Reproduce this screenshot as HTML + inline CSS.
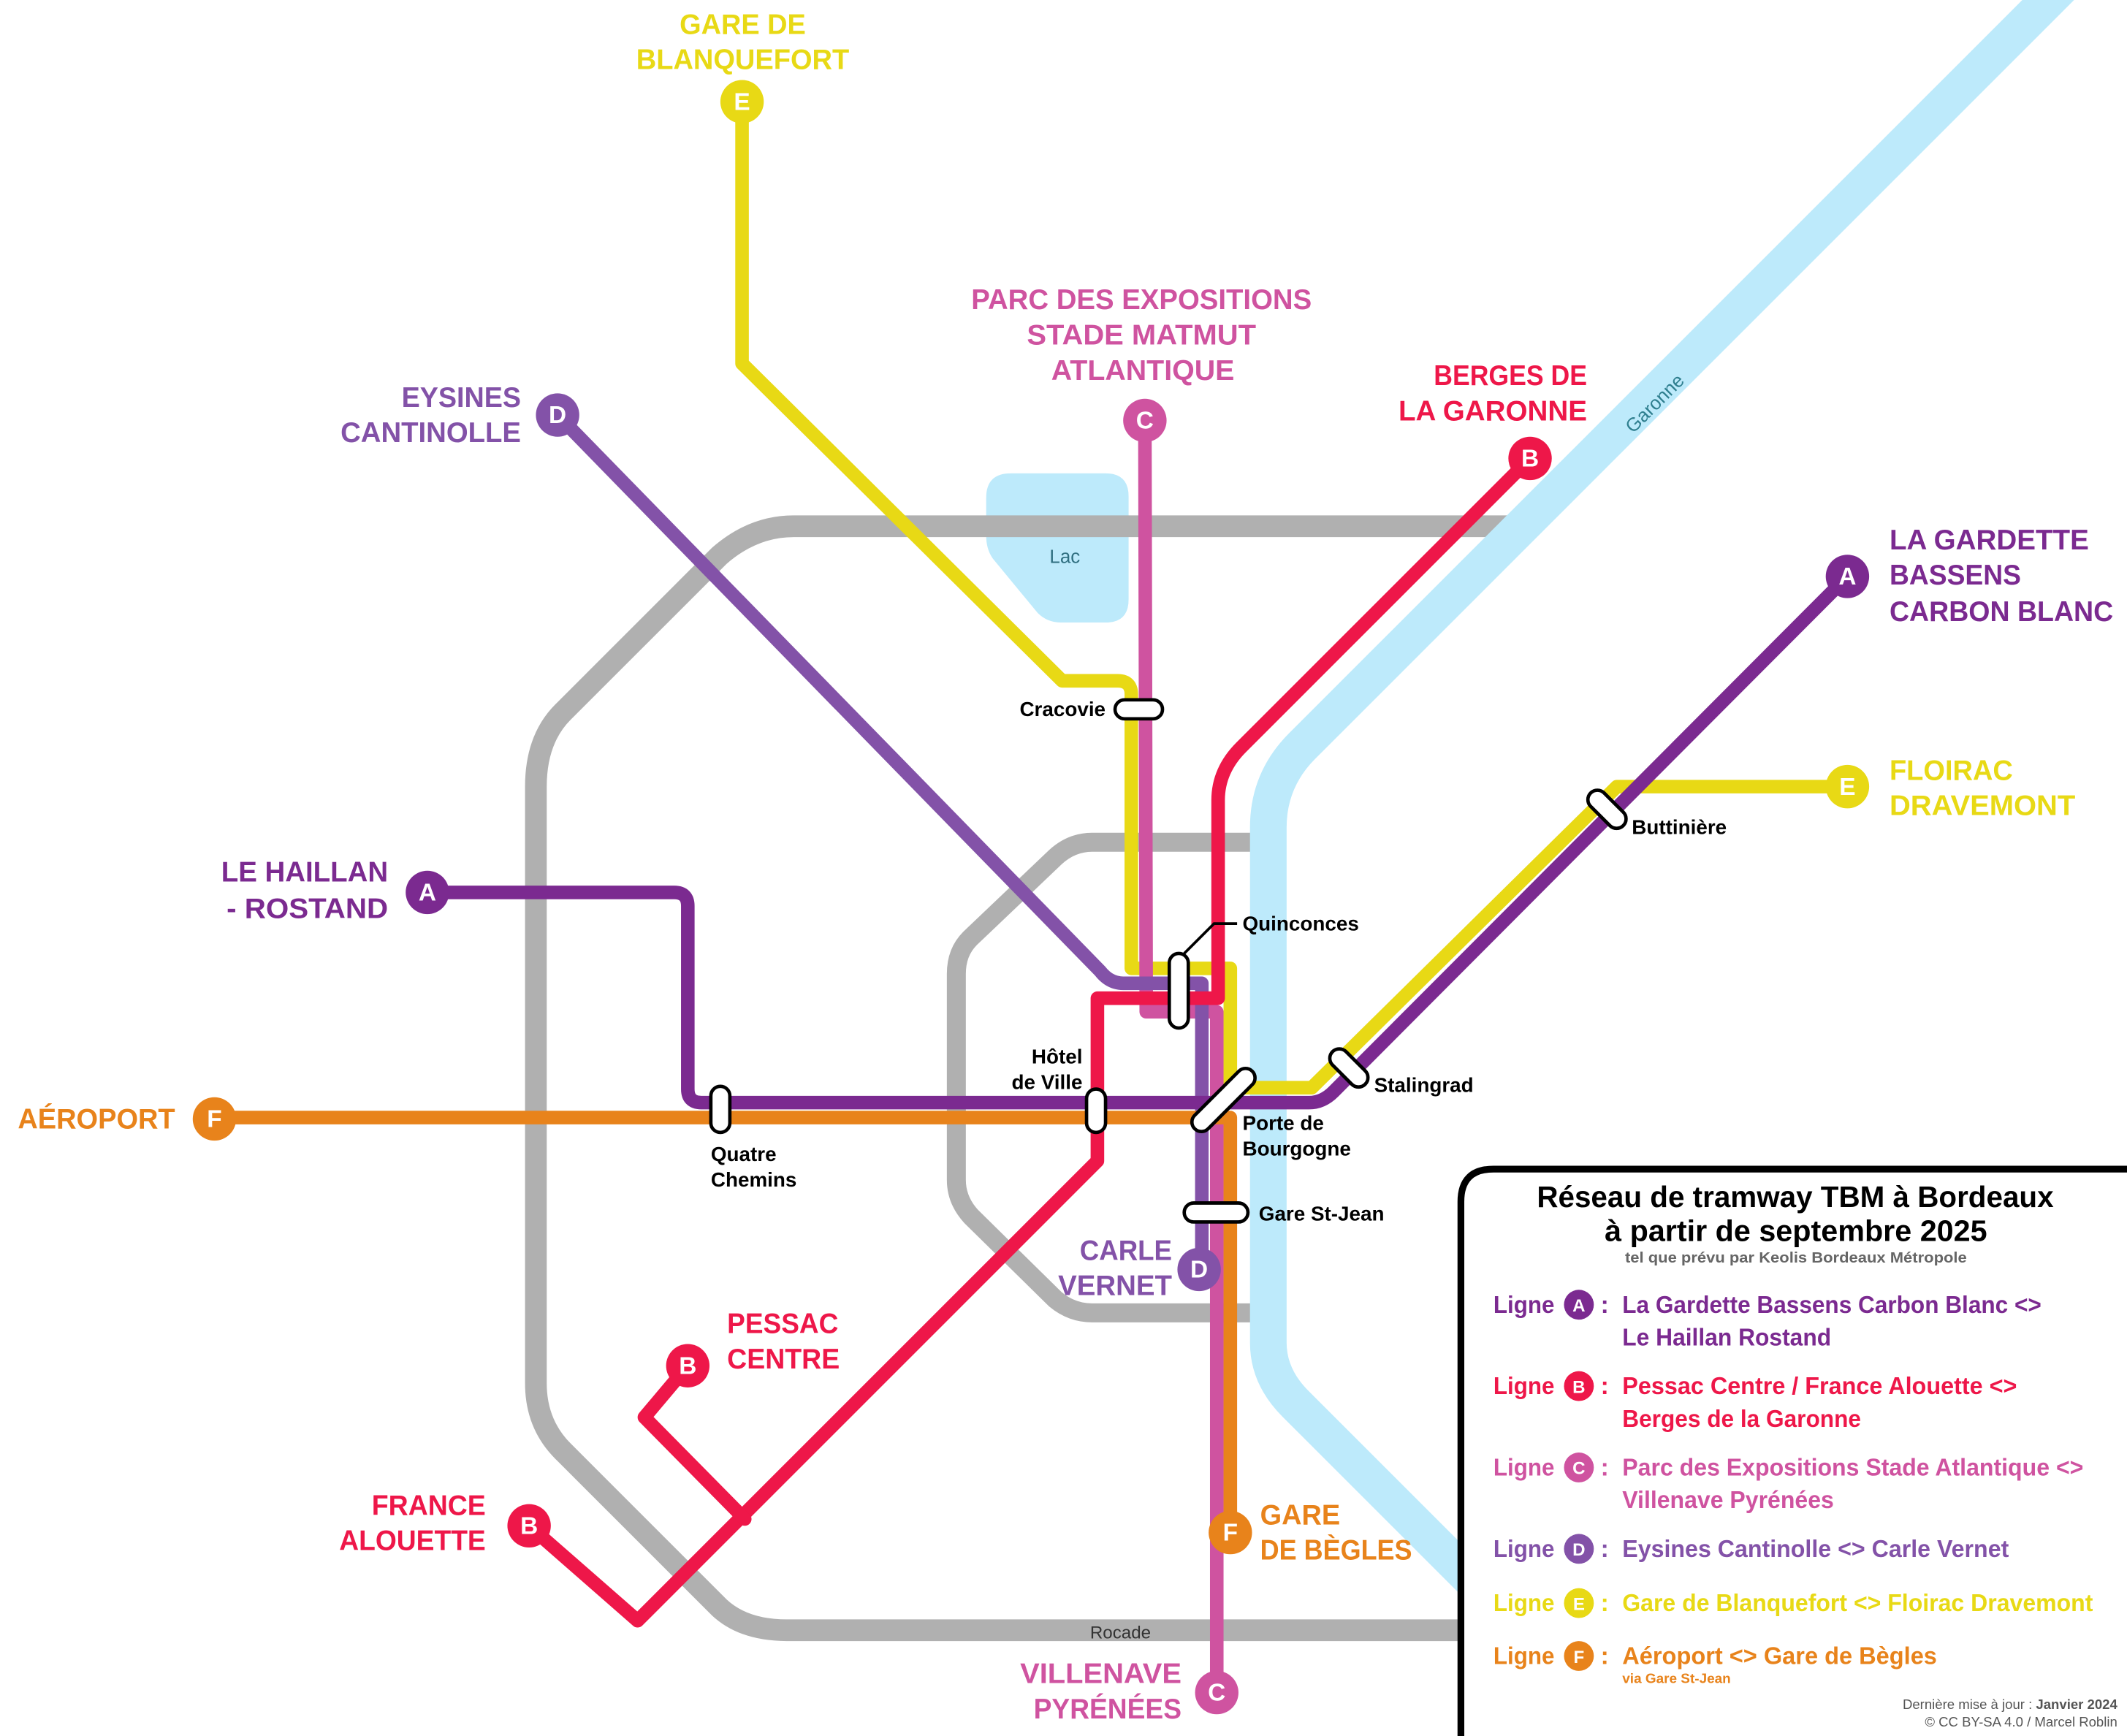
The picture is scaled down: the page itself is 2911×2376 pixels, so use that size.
<!DOCTYPE html>
<html><head><meta charset="utf-8"><style>
html,body{margin:0;padding:0;background:#fff}
svg{display:block}
text{font-family:"Liberation Sans",sans-serif;font-weight:bold}
.L{font-size:21px}
.s{font-size:15px;fill:#000}
.g{font-size:18px}
</style></head><body>
<svg width="2911" height="2376" viewBox="0 0 1568 1280" xmlns="http://www.w3.org/2000/svg">
<rect width="1568" height="1280" fill="#fff"/>
<!-- lake -->
<path d="M745,349 L815,349 Q832,349 832,366 L832,442 Q832,459 815,459 L782,459 Q772,459 765,452 L732,412 Q727,405 727,395 L727,367 Q727,349 745,349 Z" fill="#bdeafb"/>
<text x="785" y="415" text-anchor="middle" style="font-size:14px;font-weight:normal" fill="#2f6f80">Lac</text>
<!-- rocade -->
<path d="M1130,388 L585,388 Q555,388 530,410 L415,525 Q395,545 395,580 L395,1020 Q395,1050 415,1070 L530,1185 Q548,1202 580,1202 L1090,1202" fill="none" stroke="#b0b0b0" stroke-width="16"/>
<path d="M930,621 L805,621 Q790,621 778,632 L715,692 Q705,702 705,718 L705,870 Q705,885 716,897 L778,958 Q790,968 805,968 L930,968" fill="none" stroke="#b0b0b0" stroke-width="14"/>
<!-- river -->
<path d="M1520,-10 L960,550 Q935,575 935,610 L935,990 Q935,1015 955,1035 L1120,1200" fill="none" stroke="#bdeafb" stroke-width="27"/>
<text x="0" y="0" transform="translate(1204,320) rotate(-45)" style="font-size:14px;font-weight:normal" fill="#2f7f8f">Garonne</text>
<text x="826" y="1208" text-anchor="middle" style="font-size:13px;font-weight:normal" fill="#333">Rocade</text>

<g fill="none" stroke-width="10" stroke-linejoin="round" stroke-linecap="round">
<path d="M547,75 L547,268 L783,502 L824,502 Q834,502 834,512 L834,714 L907,714 L907,802 L967,802 L1192,580 L1362,580" stroke="#e8d915"/>
<path d="M844,310 L845,746 L897,746 L897,1248" stroke="#cf53a0"/>
<path d="M411,306 L811,716 Q818,725 828,725 L886,725 L886,936" stroke="#8352a8"/>
<path d="M158,824 L907,824 L907,1130" stroke="#e8831b"/>
<path d="M315,658 L497,658 Q507,658 507,668 L507,803 Q507,813 517,813 L965,813 Q975,813 983,805 L1362,425" stroke="#7b2a90"/>
<path d="M1128,338 L915,551 Q898,568 898,590 L898,736 L809,736 L809,856 L470,1195 L390,1125" stroke="#ee1749"/>
<path d="M549,1120 L475,1045 L507,1007" stroke="#ee1749"/>
</g>

<g font-size="18" text-anchor="middle" fill="#fff">
<circle cx="547" cy="75" r="16" fill="#e8d915"/><text x="547" y="81" fill="#fff">E</text>
<circle cx="844" cy="310" r="16" fill="#cf53a0"/><text x="844" y="316" fill="#fff">C</text>
<circle cx="411" cy="306" r="16" fill="#8352a8"/><text x="411" y="312" fill="#fff">D</text>
<circle cx="1128" cy="338" r="16" fill="#ee1749"/><text x="1128" y="344" fill="#fff">B</text>
<circle cx="1362" cy="425" r="16" fill="#7b2a90"/><text x="1362" y="431" fill="#fff">A</text>
<circle cx="1362" cy="580" r="16" fill="#e8d915"/><text x="1362" y="586" fill="#fff">E</text>
<circle cx="315" cy="658" r="16" fill="#7b2a90"/><text x="315" y="664" fill="#fff">A</text>
<circle cx="158" cy="825" r="16" fill="#e8831b"/><text x="158" y="831" fill="#fff">F</text>
<circle cx="507" cy="1007" r="16" fill="#ee1749"/><text x="507" y="1013" fill="#fff">B</text>
<circle cx="390" cy="1125" r="16" fill="#ee1749"/><text x="390" y="1131" fill="#fff">B</text>
<circle cx="884" cy="936" r="16" fill="#8352a8"/><text x="884" y="942" fill="#fff">D</text>
<circle cx="907" cy="1130" r="16" fill="#e8831b"/><text x="907" y="1136" fill="#fff">F</text>
<circle cx="897" cy="1248" r="16" fill="#cf53a0"/><text x="897" y="1254" fill="#fff">C</text>
</g>

<g fill="#fff" stroke="#000" stroke-width="2.5">
<rect x="822" y="516" width="35" height="14" rx="7"/>
<rect x="862" y="703" width="14" height="55" rx="7"/>
<rect x="801" y="803" width="14" height="32" rx="7"/>
<rect x="524" y="801" width="14" height="34" rx="7"/>
<rect x="873" y="887" width="47" height="14" rx="7"/>
<rect x="874" y="809" width="60" height="14" rx="7" transform="rotate(-45 897 816)"/>
<rect x="978" y="779" width="34" height="14" rx="7" transform="rotate(45 993 786)"/>
<rect x="1168" y="589" width="34" height="14" rx="7" transform="rotate(45 1184 596)"/>
</g>
<path d="M873,703 L895,681 L912,681" fill="none" stroke="#000" stroke-width="2"/>

<text class="s" x="815" y="528" text-anchor="end">Cracovie</text>
<text class="s" x="916" y="686">Quinconces</text>
<text class="s" x="798" y="784" text-anchor="end">Hôtel</text>
<text class="s" x="798" y="803" text-anchor="end">de Ville</text>
<text class="s" x="524" y="856">Quatre</text>
<text class="s" x="524" y="875">Chemins</text>
<text class="s" x="916" y="833">Porte de</text>
<text class="s" x="916" y="852">Bourgogne</text>
<text class="s" x="928" y="900">Gare St-Jean</text>
<text class="s" x="1013" y="805">Stalingrad</text>
<text class="s" x="1203" y="615">Buttinière</text>

<g class="L">
<text x="501" y="25" fill="#e8d915" textLength="93" lengthAdjust="spacingAndGlyphs">GARE DE</text>
<text x="469" y="51" fill="#e8d915" textLength="157" lengthAdjust="spacingAndGlyphs">BLANQUEFORT</text>
<text x="716" y="228" fill="#cf53a0" textLength="251" lengthAdjust="spacingAndGlyphs">PARC DES EXPOSITIONS</text>
<text x="757" y="254" fill="#cf53a0" textLength="169" lengthAdjust="spacingAndGlyphs">STADE MATMUT</text>
<text x="775" y="280" fill="#cf53a0" textLength="135" lengthAdjust="spacingAndGlyphs">ATLANTIQUE</text>
<text x="1057" y="284" fill="#ee1749" textLength="113" lengthAdjust="spacingAndGlyphs">BERGES DE</text>
<text x="1031" y="310" fill="#ee1749" textLength="139" lengthAdjust="spacingAndGlyphs">LA GARONNE</text>
<text x="296" y="300" fill="#8352a8" textLength="88" lengthAdjust="spacingAndGlyphs">EYSINES</text>
<text x="251" y="326" fill="#8352a8" textLength="133" lengthAdjust="spacingAndGlyphs">CANTINOLLE</text>
<text x="1393" y="405" fill="#7b2a90" textLength="147" lengthAdjust="spacingAndGlyphs">LA GARDETTE</text>
<text x="1393" y="431" fill="#7b2a90" textLength="97" lengthAdjust="spacingAndGlyphs">BASSENS</text>
<text x="1393" y="458" fill="#7b2a90" textLength="165" lengthAdjust="spacingAndGlyphs">CARBON BLANC</text>
<text x="1393" y="575" fill="#e8d915" textLength="91" lengthAdjust="spacingAndGlyphs">FLOIRAC</text>
<text x="1393" y="601" fill="#e8d915" textLength="137" lengthAdjust="spacingAndGlyphs">DRAVEMONT</text>
<text x="163" y="650" fill="#7b2a90" textLength="123" lengthAdjust="spacingAndGlyphs">LE HAILLAN</text>
<text x="167" y="677" fill="#7b2a90" textLength="119" lengthAdjust="spacingAndGlyphs">- ROSTAND</text>
<text x="13" y="832" fill="#e8831b" textLength="116" lengthAdjust="spacingAndGlyphs">AÉROPORT</text>
<text x="536" y="983" fill="#ee1749" textLength="82" lengthAdjust="spacingAndGlyphs">PESSAC</text>
<text x="536" y="1009" fill="#ee1749" textLength="83" lengthAdjust="spacingAndGlyphs">CENTRE</text>
<text x="274" y="1117" fill="#ee1749" textLength="84" lengthAdjust="spacingAndGlyphs">FRANCE</text>
<text x="250" y="1143" fill="#ee1749" textLength="108" lengthAdjust="spacingAndGlyphs">ALOUETTE</text>
<text x="796" y="929" fill="#8352a8" textLength="68" lengthAdjust="spacingAndGlyphs">CARLE</text>
<text x="780" y="955" fill="#8352a8" textLength="84" lengthAdjust="spacingAndGlyphs">VERNET</text>
<text x="929" y="1124" fill="#e8831b" textLength="59" lengthAdjust="spacingAndGlyphs">GARE</text>
<text x="929" y="1150" fill="#e8831b" textLength="112" lengthAdjust="spacingAndGlyphs">DE BÈGLES</text>
<text x="752" y="1241" fill="#cf53a0" textLength="119" lengthAdjust="spacingAndGlyphs">VILLENAVE</text>
<text x="762" y="1267" fill="#cf53a0" textLength="109" lengthAdjust="spacingAndGlyphs">PYRÉNÉES</text>
</g>

<path d="M1077,1290 L1077,886 Q1077,862 1101,862 L1580,862 L1580,1290 Z" fill="#fff" stroke="#000" stroke-width="5"/>
<text x="1133" y="890" style="font-size:22px" fill="#000" textLength="381" lengthAdjust="spacingAndGlyphs">Réseau de tramway TBM à Bordeaux</text>
<text x="1183" y="915" style="font-size:22px" fill="#000" textLength="282" lengthAdjust="spacingAndGlyphs">à partir de septembre 2025</text>
<text x="1198" y="931" style="font-size:11px" fill="#666" textLength="252" lengthAdjust="spacingAndGlyphs">tel que prévu par Keolis Bordeaux Métropole</text>

<g class="g">
<text x="1101" y="968" fill="#7b2a90" textLength="45" lengthAdjust="spacingAndGlyphs">Ligne</text>
<circle cx="1164" cy="962" r="11" fill="#7b2a90"/><text x="1164" y="967" text-anchor="middle" fill="#fff" style="font-size:13px">A</text>
<text x="1180" y="968" fill="#7b2a90">:</text>
<text x="1196" y="968" fill="#7b2a90" textLength="309" lengthAdjust="spacingAndGlyphs">La Gardette Bassens Carbon Blanc &lt;&gt;</text>
<text x="1196" y="992" fill="#7b2a90" textLength="154" lengthAdjust="spacingAndGlyphs">Le Haillan Rostand</text>

<text x="1101" y="1028" fill="#ee1749" textLength="45" lengthAdjust="spacingAndGlyphs">Ligne</text>
<circle cx="1164" cy="1022" r="11" fill="#ee1749"/><text x="1164" y="1027" text-anchor="middle" fill="#fff" style="font-size:13px">B</text>
<text x="1180" y="1028" fill="#ee1749">:</text>
<text x="1196" y="1028" fill="#ee1749" textLength="291" lengthAdjust="spacingAndGlyphs">Pessac Centre / France Alouette &lt;&gt;</text>
<text x="1196" y="1052" fill="#ee1749" textLength="176" lengthAdjust="spacingAndGlyphs">Berges de la Garonne</text>

<text x="1101" y="1088" fill="#cf53a0" textLength="45" lengthAdjust="spacingAndGlyphs">Ligne</text>
<circle cx="1164" cy="1082" r="11" fill="#cf53a0"/><text x="1164" y="1087" text-anchor="middle" fill="#fff" style="font-size:13px">C</text>
<text x="1180" y="1088" fill="#cf53a0">:</text>
<text x="1196" y="1088" fill="#cf53a0" textLength="340" lengthAdjust="spacingAndGlyphs">Parc des Expositions Stade Atlantique &lt;&gt;</text>
<text x="1196" y="1112" fill="#cf53a0" textLength="156" lengthAdjust="spacingAndGlyphs">Villenave Pyrénées</text>

<text x="1101" y="1148" fill="#8352a8" textLength="45" lengthAdjust="spacingAndGlyphs">Ligne</text>
<circle cx="1164" cy="1142" r="11" fill="#8352a8"/><text x="1164" y="1147" text-anchor="middle" fill="#fff" style="font-size:13px">D</text>
<text x="1180" y="1148" fill="#8352a8">:</text>
<text x="1196" y="1148" fill="#8352a8" textLength="285" lengthAdjust="spacingAndGlyphs">Eysines Cantinolle &lt;&gt; Carle Vernet</text>

<text x="1101" y="1188" fill="#e8d915" textLength="45" lengthAdjust="spacingAndGlyphs">Ligne</text>
<circle cx="1164" cy="1182" r="11" fill="#e8d915"/><text x="1164" y="1187" text-anchor="middle" fill="#fff" style="font-size:13px">E</text>
<text x="1180" y="1188" fill="#e8d915">:</text>
<text x="1196" y="1188" fill="#e8d915" textLength="347" lengthAdjust="spacingAndGlyphs">Gare de Blanquefort &lt;&gt; Floirac Dravemont</text>

<text x="1101" y="1227" fill="#e8831b" textLength="45" lengthAdjust="spacingAndGlyphs">Ligne</text>
<circle cx="1164" cy="1221" r="11" fill="#e8831b"/><text x="1164" y="1226" text-anchor="middle" fill="#fff" style="font-size:13px">F</text>
<text x="1180" y="1227" fill="#e8831b">:</text>
<text x="1196" y="1227" fill="#e8831b" textLength="232" lengthAdjust="spacingAndGlyphs">Aéroport &lt;&gt; Gare de Bègles</text>
</g>
<text x="1196" y="1241" style="font-size:10px" fill="#e8831b" textLength="80" lengthAdjust="spacingAndGlyphs">via Gare St-Jean</text>
<text x="1561" y="1260" text-anchor="end" style="font-size:10px;font-weight:normal" fill="#555">Dernière mise à jour : <tspan font-weight="bold">Janvier 2024</tspan></text>
<text x="1561" y="1273" text-anchor="end" style="font-size:10px;font-weight:normal" fill="#555">© CC BY-SA 4.0 / Marcel Roblin</text>
</svg>
</body></html>
